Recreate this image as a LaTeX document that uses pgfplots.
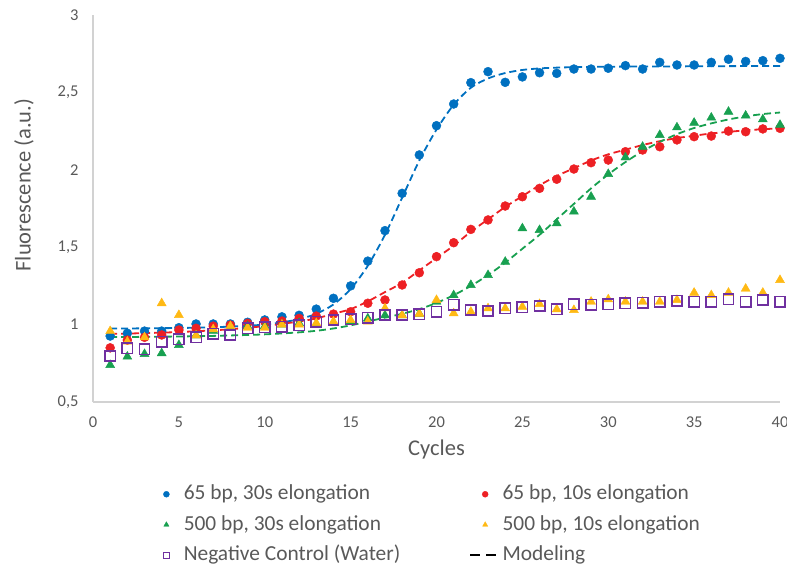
\documentclass[border=0pt]{standalone}
\usepackage{fontspec}
\setmainfont{Carlito}
\usepackage{pgfplots}
\pgfplotsset{compat=1.18}
\definecolor{cblue}{RGB}{0,112,192}
\definecolor{cred}{RGB}{237,32,36}
\definecolor{cgreen}{RGB}{24,160,80}
\definecolor{cyel}{RGB}{255,185,20}
\definecolor{cpur}{RGB}{112,48,160}
\definecolor{txt}{RGB}{89,89,89}
\definecolor{axl}{RGB}{210,210,210}
\pgfplotsset{
  markleg/.style={legend image code/.code={\draw[##1, mark size=3bp] plot coordinates {(0bp,0bp)};}},
  lineleg/.style={legend image code/.code={\draw[##1, overlay, dash pattern=on 10bp off 6bp] (-15bp,0bp) -- (11bp,0bp);}},
}
\begin{document}
\begin{tikzpicture}
\begin{axis}[
  at={(0,0)}, anchor=south west,
  scale only axis, width=687bp, height=387bp,
  xmin=0, xmax=40, ymin=0.5, ymax=3,
  xtick={0,5,...,40}, ytick={0.5,1,1.5,2,2.5,3},
  axis lines=left, axis line style={-, draw=axl, line width=1.2bp},
  major tick length=0pt,
  /pgf/number format/assume math mode=true,
  /pgf/number format/use comma,
  tick label style={text=txt, font=\fontsize{16.5bp}{20bp}\selectfont},
  xticklabel style={yshift=-11bp},
  yticklabel style={xshift=-11bp},
  xlabel={Cycles}, ylabel={Fluorescence (a.u.)},
  label style={text=txt, font=\fontsize{22.5bp}{26bp}\selectfont},
  xlabel style={at={(axis description cs:0.5,-0.124)}, anchor=center},
  ylabel style={at={(axis description cs:-0.1004,0.5607)}, anchor=center},
  clip=false,
  legend columns=2,
  legend cell align=left,
  legend style={at={(rel axis cs:0,0)}, anchor=north west, xshift=70.4bp, yshift=-82bp,
    draw=none, fill=none, inner sep=0bp, outer sep=0bp, text=txt, font=\fontsize{21.4bp}{24bp}\selectfont,
    nodes={inner sep=0bp, text height=15.5bp, text depth=5bp},
    row sep=10bp, column sep=0bp,
    /tikz/every odd column/.append style={column sep=14.4bp}},
  markleg,
]
\addplot[only marks, mark=*, mark size=4.5bp, color=cblue] coordinates {
(1,0.926) (2,0.944) (3,0.958) (4,0.958) (5,0.98) (6,1.004) (7,1.004) (8,1.004) (9,1.015) (10,1.03)
(11,1.05) (12,1.06) (13,1.10) (14,1.17) (15,1.25) (16,1.41) (17,1.607) (18,1.848) (19,2.096) (20,2.285)
(21,2.425) (22,2.563) (23,2.634) (24,2.565) (25,2.60) (26,2.627) (27,2.623) (28,2.651) (29,2.651) (30,2.656)
(31,2.673) (32,2.651) (33,2.694) (34,2.677) (35,2.677) (36,2.694) (37,2.714) (38,2.70) (39,2.705) (40,2.72)};
\addlegendentry{\makebox[298.4bp][l]{65 bp, 30s elongation}}
\addplot[only marks, mark=*, mark size=4.5bp, color=cred] coordinates {
(1,0.85) (2,0.90) (3,0.918) (4,0.933) (5,0.965) (6,0.976) (7,0.99) (8,0.997) (9,1.008) (10,1.019)
(11,1.023) (12,1.04) (13,1.055) (14,1.068) (15,1.083) (16,1.138) (17,1.159) (18,1.256) (19,1.335) (20,1.439)
(21,1.529) (22,1.615) (23,1.676) (24,1.766) (25,1.826) (26,1.88) (27,1.939) (28,2.005) (29,2.046) (30,2.063)
(31,2.117) (32,2.128) (33,2.149) (34,2.193) (35,2.214) (36,2.218) (37,2.25) (38,2.246) (39,2.264) (40,2.268)};
\addlegendentry{65 bp, 10s elongation}
\addplot[only marks, mark=triangle*, mark size=5.2bp, color=cgreen] coordinates {
(1,0.739) (2,0.793) (3,0.81) (4,0.815) (5,0.868) (6,0.93) (7,0.96) (8,0.98) (9,0.99) (10,0.99)
(11,1.00) (12,1.01) (13,1.00) (14,1.01) (15,1.02) (16,1.04) (17,1.06) (18,1.06) (19,1.07) (20,1.148)
(21,1.19) (22,1.256) (23,1.32) (24,1.406) (25,1.622) (26,1.611) (27,1.654) (28,1.73) (29,1.826) (30,1.973)
(31,2.08) (32,2.149) (33,2.225) (34,2.274) (35,2.304) (36,2.337) (37,2.375) (38,2.35) (39,2.326) (40,2.29)};
\addlegendentry{\makebox[298.4bp][l]{500 bp, 30s elongation}}
\addplot[only marks, mark=triangle*, mark size=5.2bp, color=cyel] coordinates {
(1,0.958) (2,0.89) (3,0.918) (4,1.138) (5,1.062) (6,0.93) (7,0.97) (8,0.99) (9,0.98) (10,0.98)
(11,1.00) (12,1.00) (13,1.01) (14,1.02) (15,1.03) (16,1.02) (17,1.105) (18,1.06) (19,1.07) (20,1.159)
(21,1.073) (22,1.083) (23,1.105) (24,1.105) (25,1.115) (26,1.133) (27,1.099) (28,1.094) (29,1.148) (30,1.163)
(31,1.148) (32,1.148) (33,1.148) (34,1.159) (35,1.206) (36,1.19) (37,1.206) (38,1.232) (39,1.206) (40,1.288)};
\addlegendentry{500 bp, 10s elongation}
\addplot[only marks, mark=square, mark size=5.2bp, color=cpur, mark options={line width=1.5bp}] coordinates {
(1,0.797) (2,0.847) (3,0.842) (4,0.89) (5,0.905) (6,0.918) (7,0.94) (8,0.933) (9,0.976) (10,0.982)
(11,0.986) (12,0.997) (13,1.019) (14,1.03) (15,1.034) (16,1.045) (17,1.062) (18,1.062) (19,1.068) (20,1.083)
(21,1.127) (22,1.094) (23,1.088) (24,1.105) (25,1.111) (26,1.12) (27,1.099) (28,1.131) (29,1.127) (30,1.131)
(31,1.138) (32,1.142) (33,1.148) (34,1.153) (35,1.148) (36,1.148) (37,1.163) (38,1.148) (39,1.159) (40,1.148)};
\addlegendentry{\makebox[298.4bp][l]{Negative Control (Water)}}
\addlegendimage{black, line width=1.8bp, lineleg}
\addlegendentry{Modeling}
% model curves
\addplot[forget plot, cblue, line width=1.8bp, dash pattern=on 7bp off 4bp, smooth] coordinates {
(1,0.975) (2,0.975) (3,0.976) (4,0.977) (5,0.978) (6,0.98) (7,0.983) (8,0.987) (9,0.993) (10,1.00)
(11,1.015) (12,1.035) (13,1.07) (14,1.13) (15,1.23) (16,1.38) (17,1.58) (18,1.82) (19,2.06) (20,2.26)
(21,2.42) (22,2.53) (23,2.59) (24,2.625) (25,2.645) (26,2.655) (27,2.66) (28,2.663) (29,2.665) (30,2.666)
(32,2.667) (34,2.668) (36,2.669) (38,2.67) (40,2.67)};
\addplot[forget plot, cred, line width=1.8bp, dash pattern=on 7bp off 4bp, smooth] coordinates {
(1,0.94) (2,0.942) (3,0.945) (4,0.948) (5,0.952) (6,0.957) (7,0.963) (8,0.97) (9,0.98) (10,0.99)
(11,1.005) (12,1.02) (13,1.04) (14,1.07) (15,1.10) (16,1.15) (17,1.21) (18,1.27) (19,1.35) (20,1.43)
(21,1.51) (22,1.60) (23,1.68) (24,1.76) (25,1.83) (26,1.90) (27,1.96) (28,2.01) (29,2.06) (30,2.10)
(31,2.13) (32,2.16) (33,2.185) (34,2.205) (35,2.22) (36,2.235) (37,2.245) (38,2.255) (39,2.262) (40,2.268)};
\addplot[forget plot, cgreen, line width=1.8bp, dash pattern=on 7bp off 4bp, smooth] coordinates {
(1,0.92) (2,0.92) (3,0.921) (4,0.922) (5,0.923) (6,0.925) (7,0.927) (8,0.93) (9,0.933) (10,0.937)
(11,0.943) (12,0.95) (13,0.96) (14,0.975) (15,0.995) (16,1.02) (17,1.045) (18,1.07) (19,1.10) (20,1.14)
(21,1.19) (22,1.25) (23,1.32) (24,1.40) (25,1.49) (26,1.58) (27,1.68) (28,1.78) (29,1.88) (30,1.97)
(31,2.05) (32,2.12) (33,2.18) (34,2.23) (35,2.27) (36,2.30) (37,2.325) (38,2.345) (39,2.36) (40,2.37)};
\end{axis}
\pgfresetboundingbox
\useasboundingbox (-93bp,-166bp) rectangle (694bp,402bp);
\end{tikzpicture}
\end{document}
